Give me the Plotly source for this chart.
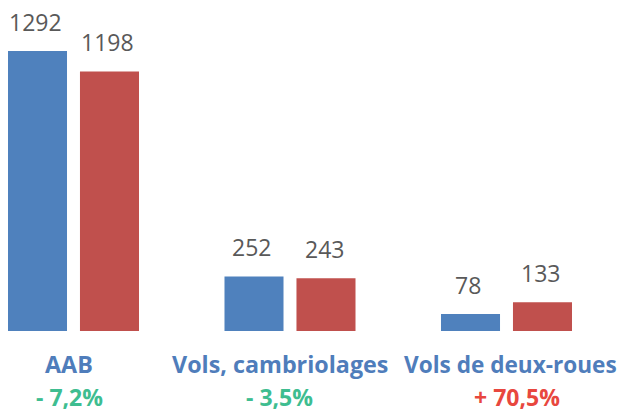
import plotly.graph_objects as go

categories = ["AAB", "Vols, cambriolages", "Vols de deux-roues"]
series_2020 = [1292, 252, 78]
series_2021 = [1198, 243, 133]
changes = ["- 7,2%", "- 3,5%", "+ 70,5%"]
change_colors = ["#3ebd90", "#3ebd90", "#e8473e"]
label_xshift = [-4, -10, 4]
pct_xshift = [-4, -10, 10]

xs = list(range(len(categories)))
blue = "#4f81bd"
red = "#c0504d"
font_family = "Open Sans"

fig = go.Figure()
fig.add_trace(go.Bar(x=xs, y=series_2020, marker=dict(color=blue, line=dict(width=0))))
fig.add_trace(go.Bar(x=xs, y=series_2021, marker=dict(color=red, line=dict(width=0))))

annotations = []
slot = 0.3326
for i, x in enumerate(xs):
    for j, vals in enumerate([series_2020, series_2021]):
        xo = x + (j - 0.5) * slot
        annotations.append(dict(x=xo, y=vals[i], xref="x", yref="y", text=str(vals[i]),
                                showarrow=False, yanchor="middle", yshift=29, xshift=-2,
                                font=dict(family=font_family, size=23, color="#595959")))
    annotations.append(dict(x=x, y=0, xref="x", yref="paper", text="<b>%s</b>" % categories[i],
                            showarrow=False, yanchor="middle", yshift=-33, xshift=label_xshift[i],
                            font=dict(family=font_family, size=23.3 if i < 2 else 22.6, color="#4f7dbb")))
    annotations.append(dict(x=x, y=0, xref="x", yref="paper", text="<b>%s</b>" % changes[i],
                            showarrow=False, yanchor="middle", yshift=-66, xshift=pct_xshift[i],
                            font=dict(family=font_family, size=23, color=change_colors[i])))

fig.update_layout(
    width=619, height=402,
    margin=dict(l=0, r=0, t=0, b=79),
    barmode="group", bargap=0.335, bargroupgap=0.18,
    showlegend=False,
    plot_bgcolor="white", paper_bgcolor="white",
    xaxis=dict(range=[-0.3025, 2.5566], showticklabels=False, showgrid=False, zeroline=False, showline=False),
    yaxis=dict(range=[0, 1490.6], visible=False),
    annotations=annotations,
)
fig.write_html("out.html")
